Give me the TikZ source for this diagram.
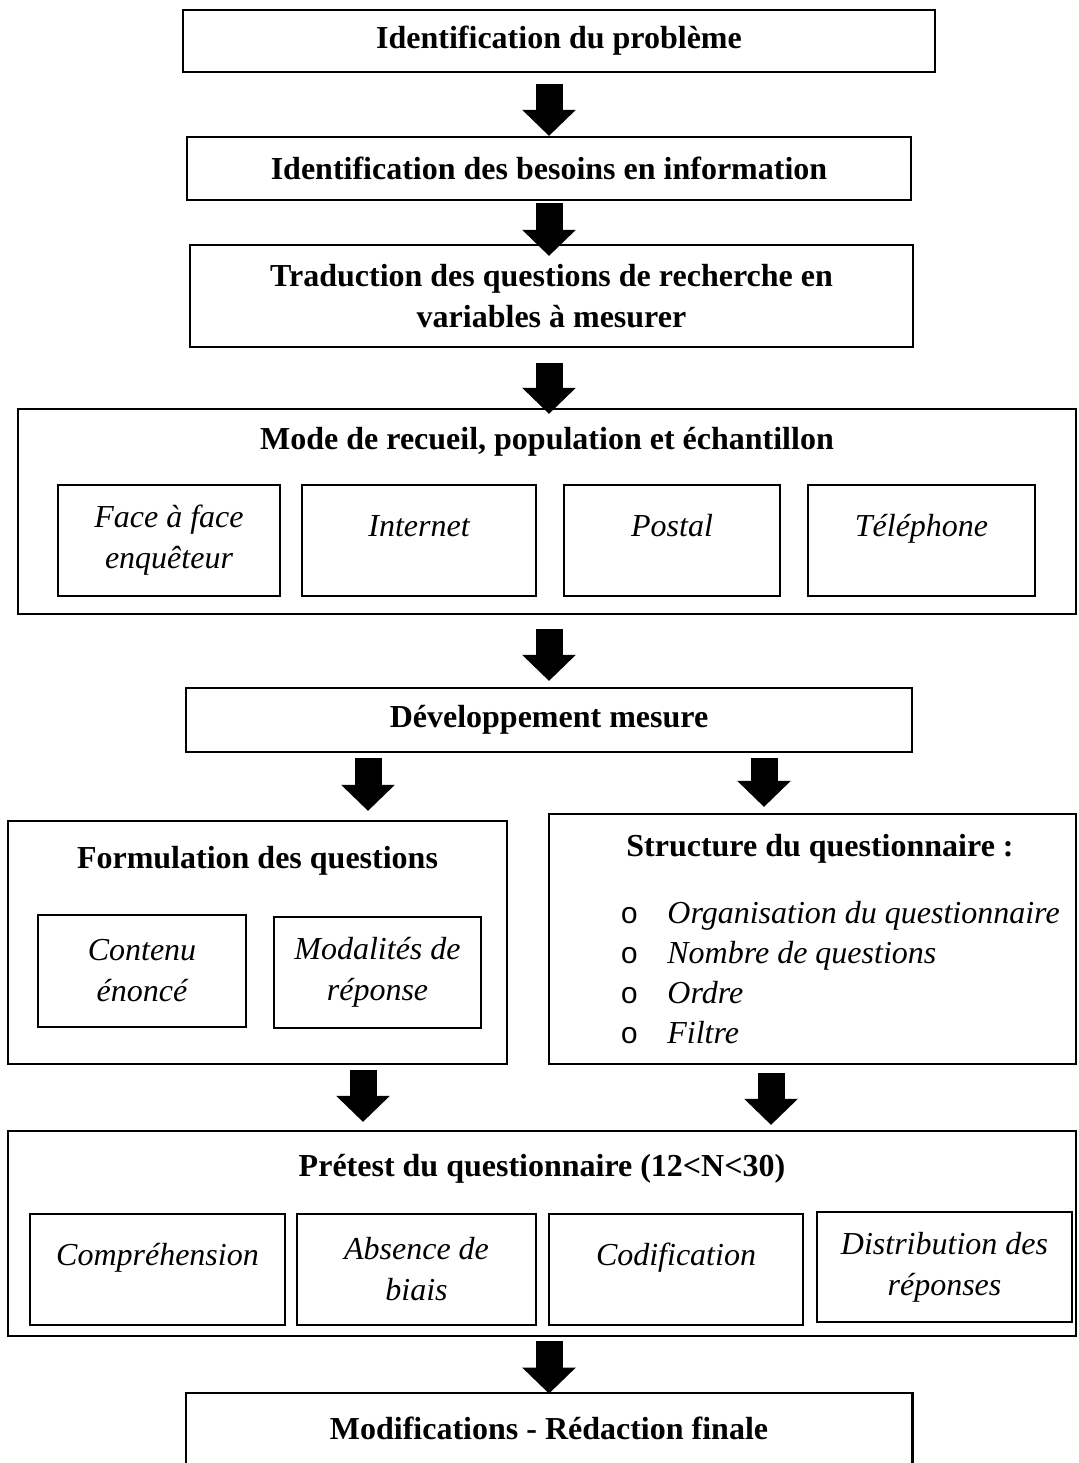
\documentclass[tikz,border=0pt]{standalone}
\usepackage{fontspec}
\setmainfont{Liberation Serif}
\setmonofont{Liberation Mono}
\usetikzlibrary{arrows.meta,calc}
\newcommand\boxfont{\fontsize{16}{20.5}\selectfont}
\newcommand\bul{\makebox[23.5pt][l]{\upshape\ttfamily\fontsize{15}{15}\selectfont o}}
\begin{document}
\begin{tikzpicture}[x=0.5pt,y=-0.5pt,
  box/.style={draw,line width=1.1pt,align=center,inner sep=0pt,font=\boxfont\bfseries},
  subbox/.style={draw,line width=1.1pt,align=center,inner sep=0pt,font=\boxfont\itshape},
  oneline/.style={text height=11pt,text depth=15pt},
  title/.style={font=\boxfont\bfseries,inner sep=0pt},
  bigarrow/.style={line width=13.5pt,-{Triangle[width=26pt,length=13pt]}}]
\useasboundingbox[fill=white] (0,0) rectangle (1078,1463);

\node[box,minimum width=376pt,minimum height=31pt] (prob) at (559,41) {Identification du problème};
\node[box,minimum width=362pt,minimum height=31.5pt] (besoins) at (549,168.5) {Identification des besoins en information};
\node[box,minimum width=361.5pt,minimum height=51pt] (trad) at (551.5,296) {Traduction des questions de recherche en\\variables à mesurer};

\node[box,minimum width=529pt,minimum height=102.5pt] (mode) at (547,511.5) {};
\node[title] (modetitle) at (547,442) {Mode de recueil, population et échantillon};
\node[subbox,minimum width=111pt,minimum height=55.5pt] (face) at (169,540.5) {Face à face\\enquêteur};
\node[subbox,oneline,minimum width=117pt,minimum height=55.5pt] (internet) at (419,540.5) {Internet};
\node[subbox,oneline,minimum width=108pt,minimum height=55.5pt] (postal) at (672,540.5) {Postal};
\node[subbox,oneline,minimum width=113.5pt,minimum height=55.5pt] (tel) at (921.5,540.5) {Téléphone};

\node[box,minimum width=363pt,minimum height=32pt] (dev) at (549,720) {Développement mesure};

\node[box,minimum width=249.5pt,minimum height=121.5pt] (formul) at (257.5,942.5) {};
\node[title] (formultitle) at (257.5,861) {Formulation des questions};
\node[subbox,minimum width=104pt,minimum height=56pt] (contenu) at (142,971) {Contenu\\énoncé};
\node[subbox,minimum width=103.5pt,minimum height=55.5pt] (modal) at (377.5,972.5) {Modalités de\\réponse};

\node[box,minimum width=263.5pt,minimum height=125pt] (struct) at (812.5,939) {};
\node[title] (structtitle) at (820,849) {Structure du questionnaire :};
\node[font=\fontsize{16}{20}\selectfont\itshape,align=left,inner sep=0pt,anchor=north west] (structlist) at (620,901)
  {\bul Organisation du questionnaire\\ \bul Nombre de questions\\ \bul Ordre\\ \bul Filtre};

\node[box,minimum width=534pt,minimum height=102.5pt] (pretest) at (542,1233.5) {};
\node[title] (pretesttitle) at (542,1169) {Prétest du questionnaire (12<N<30)};
\node[subbox,oneline,minimum width=127.5pt,minimum height=55.5pt] (compr) at (157.5,1269.5) {Compréhension};
\node[subbox,minimum width=119.5pt,minimum height=55.5pt] (absence) at (416.5,1269.5) {Absence de\\biais};
\node[subbox,oneline,minimum width=127pt,minimum height=55.5pt] (codif) at (676,1269.5) {Codification};
\node[subbox,minimum width=127.5pt,minimum height=55pt] (distrib) at (944.5,1267) {Distribution des\\réponses};

\node[title,minimum width=363pt,minimum height=35pt] (final) at (549,1428) {Modifications - Rédaction finale};
\draw[line width=1.1pt] (final.south west) -- (final.north west) -- (final.north east) -- (final.south east);

\draw[bigarrow] ($(prob.south)+(-5pt,-5.5pt)$) -- (besoins.north);
\draw[bigarrow] ($(besoins.south)+(0,-1pt)$) -- ($(trad.north)+(-1.25pt,-6pt)$);
\draw[bigarrow] ($(trad.south)+(-1.25pt,-7.5pt)$) -- ($(mode.north)+(1pt,-3pt)$);
\draw[bigarrow] ($(mode.south)+(1pt,-7pt)$) -- ($(dev.north)+(0,3pt)$);
\draw[bigarrow] ($(dev.south)+(-90.5pt,-2.5pt)$) -- ($(formul.north)+(55.25pt,4.5pt)$);
\draw[bigarrow] ($(dev.south)+(107.5pt,-2.5pt)$) -- ($(struct.north)+(-24.25pt,3pt)$);
\draw[bigarrow] ($(formul.south)+(52.75pt,-2.5pt)$) -- ($(pretest.north)+(-89.5pt,4pt)$);
\draw[bigarrow] ($(struct.south)+(-20.75pt,-4pt)$) -- ($(pretest.north)+(114.5pt,2.5pt)$);
\draw[bigarrow] ($(pretest.south)+(3.5pt,-2pt)$) -- ($(final.north)+(0,-0.5pt)$);
\end{tikzpicture}
\end{document}
